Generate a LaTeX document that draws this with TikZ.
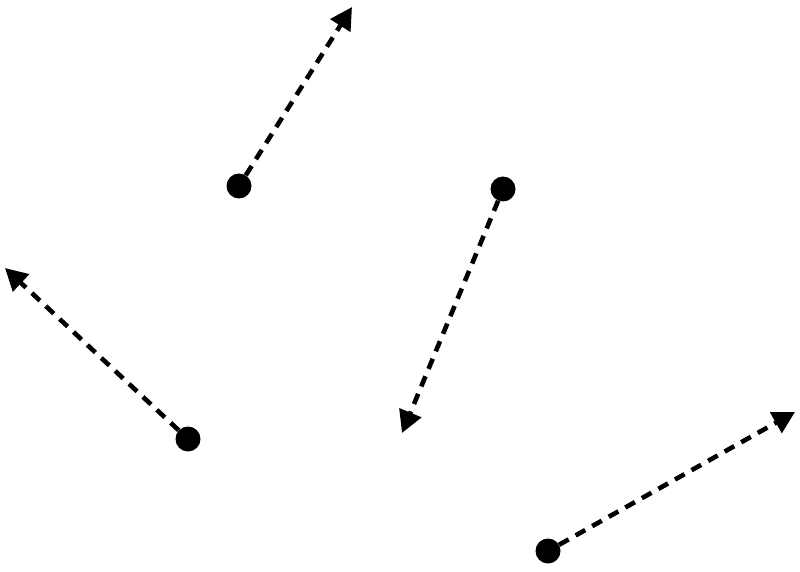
\documentclass[tikz,border=0pt]{standalone}
\usetikzlibrary{arrows.meta}
\begin{document}
\begin{tikzpicture}[x=1pt,y=-1pt,
  dotnode/.style={circle,fill=black,inner sep=0pt,minimum size=25pt},
  vec/.style={line width=4.6pt,dash pattern=on 11pt off 8pt,-{Triangle[length=22pt,width=23pt]}}]
\useasboundingbox (0,0) rectangle (800,572);
\node[dotnode] (a) at (239,186) {};
\node[dotnode] (b) at (503,189) {};
\node[dotnode] (c) at (188,439) {};
\node[dotnode] (d) at (548,551) {};
\coordinate (ta) at (352,7);
\coordinate (tb) at (402,433);
\coordinate (tc) at (5,268);
\coordinate (td) at (795,412);
\draw[vec] (a) -- (ta);
\draw[vec] (b) -- (tb);
\draw[vec] (c) -- (tc);
\draw[vec] (d) -- (td);
\end{tikzpicture}
\end{document}
